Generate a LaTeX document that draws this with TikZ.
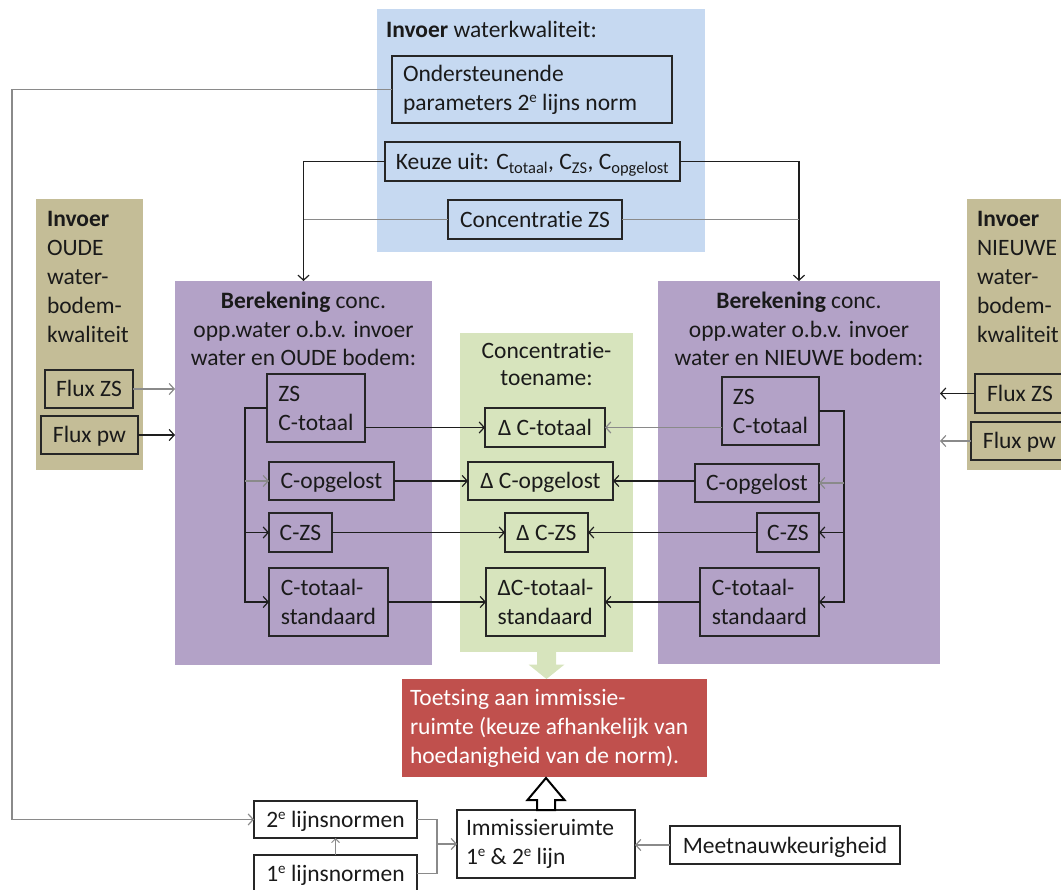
\documentclass[tikz,border=0pt]{standalone}
\usepackage{fontspec}
\setmainfont{Carlito}[Ligatures=NoCommon]
\usetikzlibrary{arrows.meta,calc}
\definecolor{cblue}{HTML}{C6D9F1}
\definecolor{cpurple}{HTML}{B3A2C7}
\definecolor{ctan}{HTML}{C4BD97}
\definecolor{cgreen}{HTML}{D7E4BD}
\definecolor{cred}{HTML}{C0504D}
\definecolor{lk}{HTML}{1E1E1E}
\definecolor{lg}{HTML}{8A8A8A}
\definecolor{tx}{HTML}{1A1A1A}
\newcommand\supe{\raisebox{0.7ex}{\fontsize{15}{15}\selectfont e}}
\tikzset{
  region/.style={draw=none, inner sep=0pt, outer sep=0pt},
  bx/.style={draw=black!85, line width=1.2pt, inner sep=0pt, outer sep=0pt, text=tx},
  one/.style={text height=18pt, text depth=2pt},
  txt/.style={inner sep=0pt, outer sep=0pt, text=tx},
  dk/.style={draw=lk, line width=1.2pt},
  gy/.style={draw=lg, line width=1.2pt},
  arr/.style={-{Straight Barb[length=5pt,width=11pt]}},
}
\begin{document}
\begin{tikzpicture}[x=1pt,y=-1pt,
  every node/.style={font=\fontsize{23.5}{29}\selectfont}]
\useasboundingbox (0,0) rectangle (1061,890);

% regions
\node[region, fill=cblue, minimum width=328.5pt, minimum height=243pt] (blue) at (540.75,130.5) {};
\node[region, fill=ctan, minimum width=107pt, minimum height=271pt] (tanl) at (89.5,334.5) {};
\node[region, fill=ctan, minimum width=110pt, minimum height=271pt] (tanr) at (1022,334.5) {};
\node[region, fill=cpurple, minimum width=257pt, minimum height=384pt] (lp) at (303.5,473) {};
\node[region, fill=cpurple, minimum width=282pt, minimum height=383pt] (rp) at (799,472.5) {};
\node[region, fill=cgreen, minimum width=173pt, minimum height=318pt] (gr) at (546.5,492.5) {};
\node[region, fill=cred, text=white, minimum width=305pt, minimum height=98pt, text width=289pt, align=flush left] (red) at (554.5,728) {Toetsing aan immissie-\\ruimte (keuze afhankelijk van\\hoedanigheid van de norm).};

% titles (anchor base = last line baseline)
\node[txt, anchor=base west] (blt) at (386,38) {\textbf{Invoer} waterkwaliteit:};
\node[txt, anchor=base west, align=left] (tlt) at (47,343) {\textbf{Invoer}\\OUDE\\water-\\bodem-\\kwaliteit};
\node[txt, anchor=base west, align=left] (trt) at (977,343) {\textbf{Invoer}\\NIEUWE\\water-\\bodem-\\kwaliteit};
\node[txt, anchor=base, align=center, font=\fontsize{23.5}{28.5}\selectfont] (lpt) at (303.5,366) {\textbf{Berekening} conc.\\opp.water o.b.v. invoer\\water en OUDE bodem:};
\node[txt, anchor=base, align=center, font=\fontsize{23.5}{28.5}\selectfont] (rpt) at (799,366) {\textbf{Berekening} conc.\\opp.water o.b.v. invoer\\water en NIEUWE bodem:};
\node[txt, anchor=base, align=center, font=\fontsize{23.5}{27.5}\selectfont] (grt) at (546.5,386) {Concentratie-\\toename:};

% blue boxes
\node[bx, minimum width=280pt, minimum height=67pt, text width=258pt, align=flush left] (onder) at (532,89.5) {Ondersteunende\\parameters 2\supe{} lijns norm};
\node[bx, one, minimum width=295pt, minimum height=39pt] (keuze) at (532.5,161.5) {Keuze uit: C\textsubscript{totaal}, C\textsubscript{ZS}, C\textsubscript{opgelost}};
\node[bx, one, minimum width=174pt, minimum height=39pt] (czs) at (535,219.5) {Concentratie ZS};

% tan boxes
\node[bx, one, minimum width=88pt, minimum height=38pt] (lfzs) at (89,389) {Flux ZS};
\node[bx, one, minimum width=97pt, minimum height=38pt] (lfpw) at (89.5,435) {Flux pw};
\node[bx, one, minimum width=90pt, minimum height=39pt] (rfzs) at (1020,393.5) {Flux ZS};
\node[bx, one, minimum width=97pt, minimum height=38pt] (rfpw) at (1019.5,441) {Flux pw};

% left purple boxes
\node[bx, minimum width=98pt, minimum height=68pt, align=left] (lzs) at (316,408) {ZS\\C-totaal};
\node[bx, one, minimum width=125pt, minimum height=38pt] (lop) at (331.5,481) {C-opgelost};
\node[bx, one, minimum width=63pt, minimum height=39pt] (lczs) at (300.5,532.5) {C-ZS};
\node[bx, minimum width=119pt, minimum height=68pt, align=left] (lstd) at (328.5,602) {C-totaal-\\standaard};

% green boxes
\node[bx, one, minimum width=120pt, minimum height=39pt] (dtot) at (545,427.5) {Δ C-totaal};
\node[bx, one, minimum width=145pt, minimum height=38pt] (dop) at (540.5,481) {Δ C-opgelost};
\node[bx, one, minimum width=83pt, minimum height=39pt] (dzs) at (546.5,532.5) {Δ C-ZS};
\node[bx, minimum width=119pt, minimum height=68pt, align=left] (dstd) at (545.5,602) {ΔC-totaal-\\standaard};

% right purple boxes
\node[bx, minimum width=97pt, minimum height=68pt, align=left] (rzs) at (770.5,411) {ZS\\C-totaal};
\node[bx, one, minimum width=124pt, minimum height=38pt] (rop) at (757,483) {C-opgelost};
\node[bx, one, minimum width=62pt, minimum height=39pt] (rczs) at (788,532.5) {C-ZS};
\node[bx, minimum width=119pt, minimum height=68pt, align=left] (rstd) at (759.5,602) {C-totaal-\\standaard};

% bottom boxes
\node[bx, one, minimum width=163pt, minimum height=37pt] (n2e) at (335.5,819.5) {2\supe{} lijnsnormen};
\node[bx, one, minimum width=163pt, minimum height=37pt] (n1e) at (335.5,873.5) {1\supe{} lijnsnormen};
\node[bx, minimum width=178pt, minimum height=68pt, text width=160pt, align=flush left] (imm) at (546,844) {Immissieruimte\\1\supe{} \& 2\supe{} lijn};
\node[bx, one, minimum width=230pt, minimum height=38pt] (meet) at (785,845) {Meetnauwkeurigheid};

% helper coordinates
\coordinate (cl) at (12,0);
\coordinate (bl) at (245,0);
\coordinate (br) at (844,0);
\coordinate (bj) at (437,0);

% connectors top
\draw[gy, arr] (onder.west) -| (cl |- n2e.west) -- (n2e.west);
\draw[dk, arr] (keuze.west) -| (lp.north);
\draw[dk, arr] (keuze.east) -| (rp.north);
\draw[gy] (czs.west) -- (czs.west -| lp.north);
\draw[gy] (czs.east) -- (czs.east -| rp.north);

% flux
\draw[gy, arr] (lfzs.east) -- (lfzs.east -| lp.west);
\draw[dk, arr] (lfpw.east) -- (lfpw.east -| lp.west);
\draw[dk, arr] (rfzs.west) -- (rfzs.west -| rp.east);
\draw[gy, arr] (rfpw.west) -- (rfpw.west -| rp.east);

% branches
\draw[dk, arr] (lzs.west) -| (bl |- lstd.west) -- (lstd.west);
\draw[gy, arr] (bl |- lop.west) -- (lop.west);
\draw[dk, arr] (bl |- lczs.west) -- (lczs.west);
\draw[dk, arr] (rzs.east) -| (br |- rstd.east) -- (rstd.east);
\draw[gy, arr] (br |- rop.east) -- (rop.east);
\draw[dk, arr] (br |- rczs.east) -- (rczs.east);

% to green
\draw[dk, arr] (lzs.east |- dtot.west) -- (dtot.west);
\draw[dk, arr] (lop.east) -- (dop.west);
\draw[dk, arr] (lczs.east) -- (dzs.west);
\draw[dk, arr] (lstd.east) -- (dstd.west);
\draw[gy, arr] (rzs.west |- dtot.east) -- (dtot.east);
\draw[dk, arr] (rop.west |- dop.east) -- (dop.east);
\draw[dk, arr] (rczs.west) -- (dzs.east);
\draw[dk, arr] (rstd.west) -- (dstd.east);

% bottom
\draw[gy] (n2e.east) -| (bj |- imm.west);
\draw[gy, arr] (n1e.east) -| (bj |- imm.west) -- (imm.west);
\draw[gy, -{Straight Barb[length=4pt,width=8pt]}, line width=0.9pt] (n1e.north) -- (n2e.south);
\draw[gy, arr] (meet.west) -- (meet.west -| imm.east);

% block arrows
\path (gr.south) coordinate (g0) (red.north -| gr.south) coordinate (g1);
\fill[cgreen] ($(g0)+(-9.5,-1)$) -- ($(g0)+(9.5,-1)$) -- ($(g0)+(9.5,13)$) -- ($(g0)+(18,13)$) -- (g1) -- ($(g0)+(-18,13)$) -- ($(g0)+(-9.5,13)$) -- cycle;
\path (imm.north) coordinate (h0) (red.south -| imm.north) coordinate (h1);
\draw[line width=2pt, fill=white, line join=miter] ($(h0)+(-9,0)$) -- ($(h0)+(-9,-10)$) -- ($(h0)+(-18.5,-10)$) -- ($(h1)+(0,1)$) -- ($(h0)+(18.5,-10)$) -- ($(h0)+(9,-10)$) -- ($(h0)+(9,0)$) -- cycle;
\end{tikzpicture}
\end{document}
